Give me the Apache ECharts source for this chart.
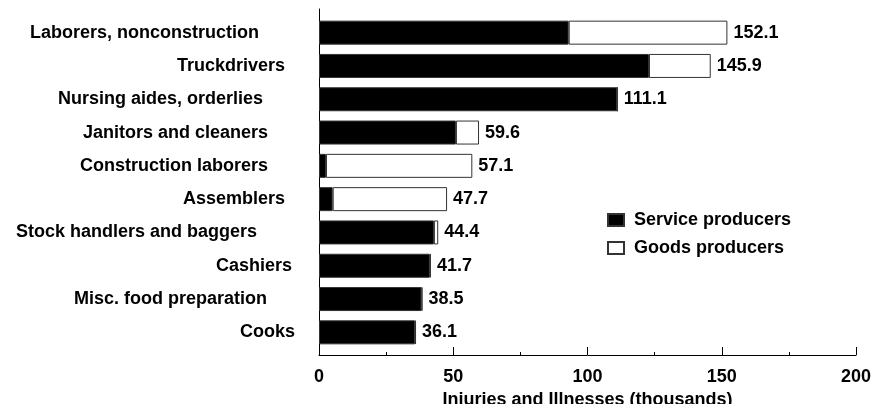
<!DOCTYPE html>
<html>
<head>
  <meta charset="UTF-8">
  <title>Injuries and Illnesses by occupation</title>
  <script src="https://cdn.jsdelivr.net/npm/echarts@6/dist/echarts.min.js"></script>
</head>
<style type="text/css">
    html,body {padding: 0; margin: 0; background: #fff}
    #chart {width: 879px; height: 404px;}
</style>
<body>
  <div id="chart"></div>
  <script type="text/javascript">
    // data (thousands)
    var occupations = ['Laborers, nonconstruction', 'Truckdrivers', 'Nursing aides, orderlies',
        'Janitors and cleaners', 'Construction laborers', 'Assemblers', 'Stock handlers and baggers',
        'Cashiers', 'Misc. food preparation', 'Cooks'];
    var serviceVals = [93.0, 122.9, 111.1, 51.0, 2.6, 5.1, 42.8, 41.3, 38.2, 35.8];
    var goodsVals   = [59.1, 23.0, 0, 8.6, 54.5, 42.6, 1.6, 0.4, 0.3, 0.3];
    var totals      = [152.1, 145.9, 111.1, 59.6, 57.1, 47.7, 44.4, 41.7, 38.5, 36.1];
    var xTicks = [0, 50, 100, 150, 200];

    // the source labels are not neatly aligned; shift each one left by a few px
    var labelShift = [36, 10, 32, 27, 27, 10, 38, 3, 28, 0];
    var richStyles = {};
    labelShift.forEach(function (s, i) {
        richStyles['r' + i] = {fontSize: 18, fontWeight: 'bold', color: '#000', padding: [0, s, 0, 0]};
    });

    var font = 'Liberation Sans, Arial, sans-serif';
    var xMin = xTicks[0], xMax = xTicks[xTicks.length - 1];
    var option = {
        animation: false,
        textStyle: {fontFamily: font},
        // grid 0 holds the bars, grid 1 only draws the axis frame (it sticks out a bit past the bars)
        grid: [
            {left: 319, right: 23, top: 16, height: 333, outerBoundsMode: 'none', containLabel: false},
            {left: 319, right: 23, top: 9, height: 346, outerBoundsMode: 'none', containLabel: false}
        ],
        legend: {
            orient: 'vertical',
            left: 607, top: 211, padding: 0,
            icon: 'rect',
            itemWidth: 16, itemHeight: 12, itemGap: 10,
            textStyle: {fontSize: 18, fontWeight: 'bold', color: '#000', fontFamily: font, padding: [0, 0, 0, 5]},
            data: ['Service producers', 'Goods producers']
        },
        xAxis: [
            {
                gridIndex: 0, type: 'value', min: xMin, max: xMax, interval: 50,
                axisLine: {show: false}, axisTick: {show: false},
                axisLabel: {show: false}, splitLine: {show: false}
            },
            {
                gridIndex: 1, type: 'value', min: xMin, max: xMax, interval: 50,
                name: 'Injuries and Illnesses (thousands)',
                nameLocation: 'middle', nameGap: 34,
                nameTextStyle: {fontSize: 18, fontWeight: 'bold', color: '#000'},
                axisLine: {show: true, lineStyle: {color: '#000', width: 1}},
                axisTick: {show: true, inside: true, length: 8, lineStyle: {color: '#000', width: 1}},
                minorTick: {show: true, splitNumber: 2, length: 3, lineStyle: {color: '#000', width: 1}},
                splitLine: {show: false},
                axisLabel: {fontSize: 18, fontWeight: 'bold', color: '#000', margin: 13}
            }
        ],
        yAxis: [
            {
                gridIndex: 0, type: 'category', inverse: true,
                data: occupations,
                axisLine: {show: false},
                axisTick: {show: false},
                axisLabel: {
                    margin: 24,
                    formatter: function (v, i) { return '{r' + i + '|' + v + '}'; },
                    rich: richStyles
                }
            },
            {
                gridIndex: 1, type: 'category', inverse: true,
                data: occupations,
                axisLine: {show: true, lineStyle: {color: '#000', width: 1}},
                axisTick: {show: false},
                axisLabel: {show: false}
            }
        ],
        series: [
            {
                name: 'Service producers', type: 'bar', stack: 'all', barWidth: 24,
                xAxisIndex: 0, yAxisIndex: 0,
                itemStyle: {color: '#000', borderColor: '#333', borderWidth: 1},
                data: serviceVals
            },
            {
                name: 'Goods producers', type: 'bar', stack: 'all', barWidth: 24,
                xAxisIndex: 0, yAxisIndex: 0,
                itemStyle: {color: '#fff', borderColor: '#333', borderWidth: 1},
                label: {
                    show: true, position: 'right', distance: 6,
                    fontSize: 18, fontWeight: 'bold', color: '#000',
                    formatter: function (p) { return totals[p.dataIndex].toFixed(1); }
                },
                data: goodsVals
            }
        ]
    };

    var myChart = echarts.init(document.getElementById('chart'));
    myChart.setOption(option);
  </script>
</body>
</html>
